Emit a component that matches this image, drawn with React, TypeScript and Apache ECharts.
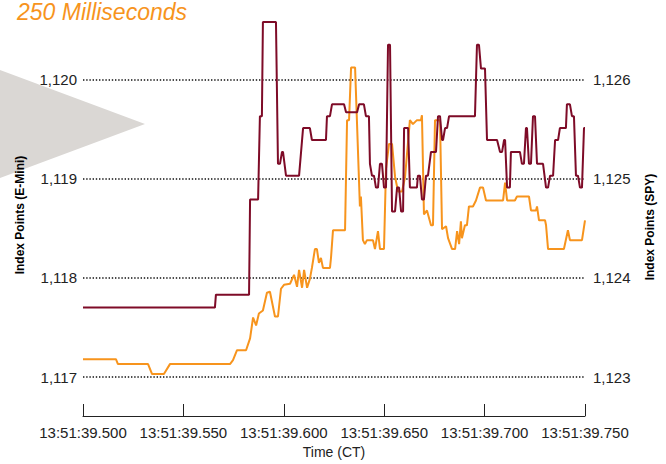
import React, { useEffect, useRef } from "react";
import * as echarts from "echarts";

// Time in milliseconds after 13:51:39
const eminiTimes = [
  500.0, 565.7, 566.2, 582.7, 583.2, 587.2, 588.1, 589.1, 589.6, 596.1, 597.1, 598.1, 599.1, 599.6,
  601.1, 607.6, 609.6, 613.0, 614.0, 621.0, 621.5, 623.0, 624.0, 630.0, 631.0, 636.5, 637.5, 639.9,
  640.9, 642.4, 642.9, 643.9, 644.9, 645.9, 646.9, 647.9, 648.9, 649.9, 650.9, 651.9, 652.9, 653.9,
  655.4, 656.4, 657.4, 658.4, 659.4, 659.9, 661.9, 662.8, 666.3, 666.8, 667.8, 668.8, 669.8, 670.8,
  671.8, 673.3, 675.8, 676.8, 677.8, 678.8, 679.3, 680.3, 681.3, 682.3, 695.2, 696.2, 697.2, 698.2,
  700.2, 701.2, 706.2, 707.7, 708.7, 709.7, 710.2, 711.2, 712.6, 713.1, 717.6, 718.6, 719.6, 720.6,
  721.1, 722.1, 723.1, 724.1, 725.1, 726.1, 729.1, 730.6, 731.6, 732.6, 734.1, 735.1, 736.6, 737.5,
  740.5, 741.0, 742.5, 743.5, 744.5, 745.5, 746.5, 747.5, 748.5, 749.5, 750.0,
];
const eminiValues = [
  1117.7, 1117.7, 1117.83, 1117.83, 1118.79, 1118.79, 1119.63, 1119.63, 1120.58, 1120.58, 1119.15, 1119.15, 1119.27, 1119.27,
  1119.03, 1119.03, 1119.51, 1119.51, 1119.39, 1119.39, 1119.63, 1119.63, 1119.75, 1119.75, 1119.67, 1119.67, 1119.75, 1119.75,
  1119.63, 1119.63, 1119.15, 1119.03, 1119.03, 1118.91, 1118.91, 1119.15, 1119.15, 1118.91, 1118.91, 1120.35, 1120.35, 1118.67,
  1118.67, 1118.91, 1118.91, 1118.67, 1118.67, 1119.51, 1119.51, 1118.91, 1118.91, 1119.03, 1119.03, 1118.79, 1118.79, 1119.03,
  1119.03, 1119.27, 1119.27, 1119.63, 1119.63, 1119.39, 1119.39, 1119.51, 1119.51, 1119.63, 1119.63, 1120.35, 1120.35, 1120.11,
  1120.11, 1119.39, 1119.39, 1119.27, 1119.27, 1119.39, 1119.39, 1118.91, 1118.91, 1119.27, 1119.27, 1119.15, 1119.15, 1119.51,
  1119.51, 1119.15, 1119.15, 1119.63, 1119.63, 1119.15, 1119.15, 1118.91, 1118.91, 1119.03, 1119.03, 1119.39, 1119.39, 1119.51,
  1119.51, 1119.75, 1119.75, 1119.63, 1119.63, 1119.03, 1119.03, 1118.91, 1118.91, 1119.51, 1119.51,
];

const spyTimes = [
  500.0, 516.4, 517.4, 532.4, 534.4, 540.3, 543.3, 573.2, 574.7, 576.7, 581.2, 583.2, 584.7, 586.2,
  587.6, 589.6, 591.6, 593.1, 595.6, 597.1, 598.6, 600.1, 603.1, 605.1, 606.6, 607.6, 609.1, 610.1,
  611.6, 613.0, 614.0, 615.5, 616.5, 617.5, 618.5, 619.5, 623.0, 623.5, 624.5, 630.5, 631.5, 632.5,
  633.5, 635.5, 637.9, 638.4, 639.4, 640.4, 641.4, 644.4, 645.4, 646.9, 647.9, 649.9, 650.9, 652.4,
  653.9, 655.4, 656.9, 658.9, 660.4, 662.8, 664.3, 666.3, 668.3, 668.8, 669.8, 671.3, 673.3, 674.3,
  675.3, 677.8, 678.8, 680.8, 681.8, 683.8, 685.3, 686.3, 687.3, 688.2, 688.7, 690.2, 691.2, 692.2,
  694.2, 695.7, 697.7, 699.2, 700.7, 709.2, 710.2, 711.2, 715.1, 716.1, 722.1, 723.1, 725.6, 726.1,
  727.1, 730.1, 730.6, 731.6, 739.5, 741.5, 742.5, 748.5, 750.0,
];
const spyValues = [
  1123.18, 1123.18, 1123.13, 1123.13, 1123.03, 1123.03, 1123.13, 1123.13, 1123.17, 1123.27, 1123.27, 1123.39, 1123.6, 1123.52,
  1123.64, 1123.67, 1123.85, 1123.86, 1123.61, 1123.61, 1123.89, 1123.93, 1123.94, 1124.03, 1123.91, 1124.08, 1123.9, 1124.08,
  1123.9, 1123.99, 1124.1, 1124.29, 1124.29, 1124.15, 1124.2, 1124.1, 1124.1, 1124.2, 1124.48, 1124.48, 1125.59, 1125.59,
  1126.12, 1126.12, 1124.72, 1124.82, 1124.38, 1124.34, 1124.38, 1124.38, 1124.29, 1124.47, 1124.29, 1124.29, 1125.1, 1125.35,
  1125.35, 1125.02, 1124.87, 1124.87, 1125.02, 1125.59, 1125.55, 1125.59, 1125.59, 1125.64, 1124.64, 1124.68, 1124.53, 1124.53,
  1125.59, 1125.59, 1124.49, 1124.52, 1124.4, 1124.29, 1124.29, 1124.47, 1124.34, 1124.57, 1124.4, 1124.53, 1124.53, 1124.72,
  1124.72, 1124.78, 1124.91, 1124.91, 1124.78, 1124.78, 1124.96, 1124.78, 1124.78, 1124.82, 1124.82, 1124.68, 1124.68, 1124.72,
  1124.58, 1124.58, 1124.53, 1124.29, 1124.29, 1124.48, 1124.38, 1124.38, 1124.58,
];

const xTicks = [500, 550, 600, 650, 700, 750];
const leftTicks = [1117, 1118, 1119, 1120];
const rightTicks = [1123, 1124, 1125, 1126];

const FONT = "'Liberation Sans', Arial, Helvetica, sans-serif";
const ORANGE = "#F7941D";
const MAROON = "#7E0B27";

const fmtIdx = (v: number) => {
  if (Math.abs(v - Math.round(v)) > 1e-6) return "";
  const s = String(Math.round(v));
  return s.slice(0, s.length - 3) + "," + s.slice(s.length - 3);
};

export default function App() {
  const ref = useRef<HTMLDivElement>(null);
  useEffect(() => {
    if (!ref.current) return;
    const chart = echarts.init(ref.current, null, { renderer: "svg" });
    const emini = eminiTimes.map((t, i) => [t, eminiValues[i]]);
    const spy = spyTimes.map((t, i) => [t, spyValues[i]]);
    chart.setOption({
      animation: false,
      backgroundColor: "#ffffff",
      textStyle: { fontFamily: FONT },
      grid: { left: 83, right: 81, top: 20, bottom: 84, containLabel: false },
      graphic: [
        {
          type: "polygon",
          z: -10,
          silent: true,
          shape: { points: [[0, 70], [145, 124], [0, 178]] },
          style: { fill: "#DAD7D4" },
        },
        {
          type: "text",
          left: 17,
          top: 0,
          style: {
            text: "250 Milliseconds",
            fill: ORANGE,
            font: `italic 23px ${FONT}`,
          },
        },
        {
          type: "text",
          x: 20,
          y: 215,
          rotation: Math.PI / 2,
          style: {
            text: "Index Points (E-Mini)",
            fill: "#000",
            font: `bold 12px ${FONT}`,
            align: "center",
            verticalAlign: "middle",
          },
        },
        {
          type: "text",
          x: 650,
          y: 227,
          rotation: Math.PI / 2,
          style: {
            text: "Index Points (SPY)",
            fill: "#000",
            font: `bold 12px ${FONT}`,
            align: "center",
            verticalAlign: "middle",
          },
        },
      ],
      xAxis: {
        type: "value",
        min: xTicks[0],
        max: xTicks[xTicks.length - 1],
        interval: 50,
        offset: 39,
        name: "Time (CT)",
        nameLocation: "middle",
        nameGap: 29,
        nameTextStyle: { fontSize: 14, color: "#222", fontFamily: FONT },
        axisLine: { show: true, lineStyle: { color: "#222", width: 1 } },
        axisTick: { show: true, inside: true, length: 12, lineStyle: { color: "#222", width: 1 } },
        axisLabel: {
          fontSize: 15,
          color: "#222",
          margin: 9,
          fontFamily: FONT,
          formatter: (v: number) => "13:51:39." + String(Math.round(v)).padStart(3, "0"),
        },
        splitLine: { show: false },
      },
      yAxis: [
        {
          type: "value",
          min: leftTicks[0],
          max: 1120.6,
          interval: 1,
          position: "left",
          axisLine: { show: false },
          axisTick: { show: false },
          axisLabel: { fontSize: 15, color: "#222", margin: 6, fontFamily: FONT, formatter: fmtIdx },
          splitLine: {
            show: true,
            showMaxLine: false,
            lineStyle: { color: "#111", width: 1.5, type: [1.4, 1.8] },
          },
        },
        {
          type: "value",
          min: rightTicks[0],
          max: 1126.6,
          interval: 1,
          position: "right",
          axisLine: { show: false },
          axisTick: { show: false },
          axisLabel: { fontSize: 15, color: "#222", margin: 8, fontFamily: FONT, formatter: fmtIdx },
          splitLine: { show: false },
        },
      ],
      series: [
        {
          name: "SPY",
          type: "line",
          yAxisIndex: 1,
          data: spy,
          showSymbol: false,
          symbol: "none",
          lineStyle: { color: ORANGE, width: 2 },
          z: 3,
        },
        {
          name: "E-Mini",
          type: "line",
          yAxisIndex: 0,
          data: emini,
          showSymbol: false,
          symbol: "none",
          lineStyle: { color: MAROON, width: 2 },
          z: 4,
        },
      ],
    });
    return () => chart.dispose();
  }, []);
  return (
    <div
      ref={ref}
      style={{ position: "fixed", left: 0, top: 0, width: 666, height: 464 }}
    />
  );
}
